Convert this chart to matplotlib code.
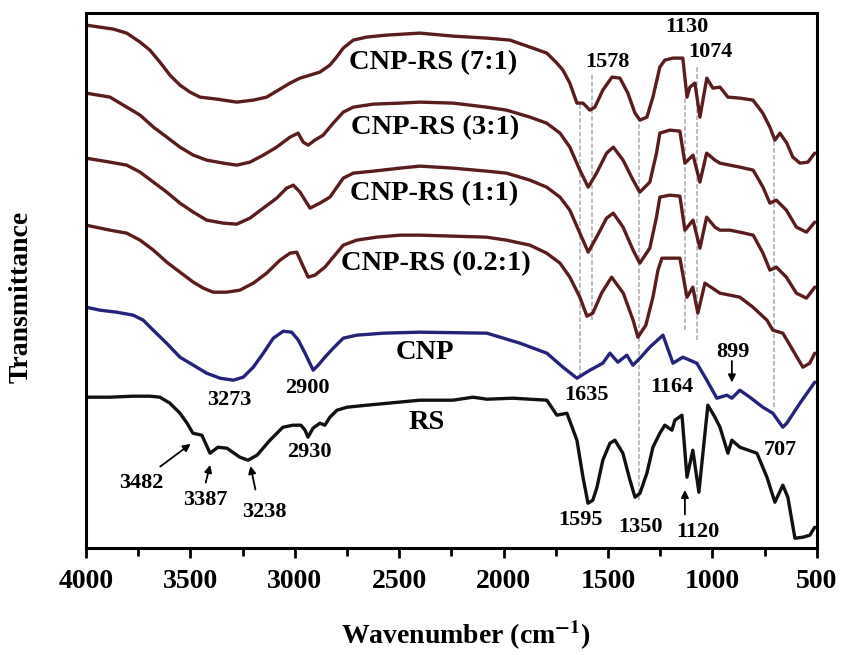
import matplotlib
matplotlib.use("Agg")
import matplotlib.pyplot as plt
from matplotlib.ticker import MultipleLocator

plt.rcParams["font.family"] = ["Liberation Serif", "DejaVu Serif"]
plt.rcParams["font.weight"] = "bold"
plt.rcParams["mathtext.fontset"] = "stix"

# FTIR spectra: wavenumber (cm-1) and transmittance (arbitrary units, stacked offsets)
WN_71 = [4000, 3869, 3805, 3741, 3694, 3646, 3598, 3550, 3502, 3454, 3374, 3278, 3199, 3135,
         3071, 3023, 2975, 2927, 2880, 2832, 2800, 2768, 2720, 2656, 2560, 2401,
         2243, 2080, 1970, 1874, 1793, 1745, 1716, 1683, 1649, 1620, 1587, 1563, 1525, 1481,
         1443, 1405, 1371, 1347, 1314, 1285, 1252, 1228, 1189, 1142, 1122, 1108, 1084, 1060,
         1027, 998, 964, 926, 869, 806, 759, 725, 701, 677, 644, 615, 581, 543, 510]
T_71 = [523, 519, 515, 506, 498, 486, 473, 463, 456, 451, 449, 446, 448, 451,
        459, 465, 470, 473, 476, 483, 491, 500, 508, 511, 513, 515,
        512, 510, 508, 501, 495, 485, 478, 465, 445, 445, 438, 441, 458, 471,
        470, 455, 435, 428, 431, 451, 481, 488, 490, 490, 451, 461, 465, 431,
        470, 460, 461, 451, 450, 448, 435, 421, 408, 415, 405, 391, 385, 386, 395]

WN_31 = [4000, 3885, 3805, 3741, 3677, 3613, 3550, 3486, 3422, 3342, 3278, 3215, 3151, 3087,
         3023, 2984, 2960, 2936, 2904, 2864, 2816, 2768, 2720, 2624, 2497,
         2401, 2241, 2082, 1986, 1874, 1794, 1730, 1683, 1635, 1595, 1555, 1507, 1475, 1428,
         1380, 1348, 1300, 1268, 1252, 1204, 1156, 1132, 1093, 1060, 1028, 988, 964, 917,
         869, 805, 758, 725, 694, 646, 598, 550, 510]
T_31 = [455, 451, 441, 433, 421, 411, 401, 393, 388, 385, 383, 386, 393, 401,
        411, 415, 406, 403, 408, 413, 425, 436, 441, 444, 445,
        446, 445, 441, 438, 431, 425, 415, 401, 378, 361, 375, 395, 401, 388,
        368, 356, 366, 395, 415, 418, 417, 385, 393, 366, 395, 388, 385, 383,
        381, 378, 361, 345, 348, 338, 321, 316, 326]

WN_11 = [4000, 3885, 3805, 3741, 3677, 3613, 3550, 3486, 3422, 3342, 3278, 3215, 3151, 3087,
         3039, 3007, 2975, 2927, 2880, 2832, 2768, 2720, 2624, 2497,
         2401, 2241, 2082, 1986, 1874, 1794, 1730, 1683, 1635, 1595, 1555, 1507, 1475, 1428,
         1380, 1348, 1300, 1268, 1252, 1204, 1156, 1132, 1093, 1060, 1028, 988, 964, 917,
         869, 805, 758, 725, 694, 646, 598, 550, 510]
T_11 = [390, 386, 383, 376, 366, 356, 345, 336, 328, 325, 324, 330, 340, 350,
        360, 363, 356, 340, 345, 351, 370, 375, 377, 380,
        382, 380, 377, 375, 368, 361, 351, 338, 315, 296, 311, 330, 335, 321,
        298, 285, 300, 331, 351, 353, 352, 318, 328, 300, 331, 321, 318, 318,
        316, 313, 295, 278, 281, 271, 255, 250, 261]

WN_021 = [4000, 3885, 3805, 3741, 3677, 3613, 3550, 3486, 3438, 3391, 3326, 3263, 3199, 3135,
          3071, 3023, 2991, 2967, 2936, 2904, 2856, 2808, 2768, 2704, 2608, 2497,
          2401, 2241, 2082, 1986, 1874, 1794, 1730, 1683, 1635, 1601, 1573, 1531, 1483, 1427,
          1380, 1357, 1319, 1285, 1261, 1242, 1156, 1122, 1094, 1070, 1036, 964, 869, 806,
          739, 711, 663, 615, 567, 534, 510]
T_021 = [323, 318, 315, 308, 298, 286, 276, 266, 260, 256, 256, 258, 265, 275,
         288, 295, 296, 285, 271, 273, 281, 293, 303, 308, 311, 313,
         313, 312, 311, 308, 303, 295, 285, 271, 251, 232, 235, 255, 271, 255,
         228, 211, 223, 251, 278, 290, 290, 251, 261, 235, 265, 255, 251, 241,
         228, 218, 215, 198, 181, 185, 195]

WN_CNP = [4000, 3933, 3853, 3774, 3726, 3678, 3614, 3550, 3486, 3422, 3358, 3295, 3247, 3199,
          3151, 3103, 3055, 3015, 2983, 2951, 2912, 2888, 2856, 2816, 2768, 2704, 2577,
          2401, 2080, 1922, 1793, 1716, 1649, 1587, 1525, 1491, 1453, 1410, 1381, 1347, 1300,
          1237, 1189, 1142, 1075, 1027, 979, 931, 907, 869, 821, 759, 711, 663, 644, 581, 510]
T_CNP = [241, 238, 236, 233, 228, 218, 205, 191, 183, 175, 170, 168, 171, 181,
         195, 210, 217, 216, 208, 195, 178, 183, 191, 200, 210, 213, 215,
         216, 215, 205, 195, 181, 170, 178, 185, 195, 186, 193, 183, 190, 201,
         213, 185, 191, 185, 168, 150, 153, 150, 158, 151, 141, 135, 121, 125, 145, 166]

WN_RS = [4000, 3885, 3775, 3694, 3646, 3598, 3550, 3516, 3488, 3445, 3406, 3368, 3325, 3263,
         3224, 3181, 3119, 3057, 3009, 2971, 2951, 2937, 2913, 2880, 2856, 2832, 2798, 2750,
         2655, 2401, 2243, 2147, 2080, 1956, 1793, 1745, 1697, 1649, 1620, 1596, 1573, 1553,
         1525, 1491, 1467, 1429, 1395, 1371, 1347, 1314, 1285, 1252, 1228, 1194, 1180, 1146,
         1122, 1094, 1065, 1022, 988, 964, 926, 907, 869, 787, 739, 701, 663, 639, 605, 567,
         534, 510]
T_RS = [151, 151, 152, 152, 151, 145, 135, 125, 115, 113, 95, 101, 100, 91,
        88, 93, 108, 121, 123, 123, 118, 111, 120, 125, 123, 131, 138, 141,
        143, 148, 148, 151, 149, 150, 148, 133, 135, 108, 71, 45, 48, 61,
        88, 105, 108, 95, 68, 51, 55, 75, 101, 115, 123, 118, 128, 133,
        71, 98, 56, 143, 131, 121, 95, 108, 101, 95, 71, 46, 63, 51, 10, 11,
        13, 21]

SERIES = [
    (WN_71, T_71, "#5a1c1c"),
    (WN_31, T_31, "#5a1c1c"),
    (WN_11, T_11, "#5a1c1c"),
    (WN_021, T_021, "#5a1c1c"),
    (WN_CNP, T_CNP, "#23237a"),
    (WN_RS, T_RS, "#111111"),
]

# curve names
CURVE_LABELS = ["CNP-RS (7:1)", "CNP-RS (3:1)", "CNP-RS (1:1)", "CNP-RS (0.2:1)", "CNP", "RS"]
CURVE_LABEL_POS = [(2339, 486), (2329, 421), (2334, 355), (2324, 285), (2377, 196), (2367, 126)]

# band labels
PEAK_TEXT = ["1130", "1074", "1578", "1635", "1164", "899", "707", "1595", "1350", "1120",
             "3273", "2900", "2930", "3482", "3387", "3238"]
PEAK_POS = [(1122, 521), (1008, 496), (1505, 486), (1601, 153), (1194, 161), (902, 196),
            (677, 98), (1630, 28), (1343, 21), (1070, 16), (3315, 148), (2942, 160),
            (2932, 96), (3737, 65), (3430, 48), (3148, 36)]

# guide lines: wavenumber, low, high
GUIDE_WN = [1635, 1578, 1350, 1130, 1074, 707]
GUIDE_LO = [171, 228, 48, 218, 208, 141]
GUIDE_HI = [443, 475, 428, 451, 483, 415]

# arrows: tail -> head
ARROWS = [((3655, 80), (3488, 106)), ((3430, 63), (3402, 86)), ((3186, 56), (3215, 85)),
          ((1132, 31), (1132, 61)), ((907, 190), (907, 163))]

fig = plt.figure(figsize=(8.43, 6.55), dpi=100)
ax = fig.add_axes([0.102, 0.163, 0.867, 0.817])

ax.vlines(GUIDE_WN, GUIDE_LO, GUIDE_HI, colors="#aaaaaa", linestyles=(0, (3, 1.5)), lw=1.1)

for wn, t, c in SERIES:
    ax.plot(wn, t, color=c, lw=2.4, solid_joinstyle="round", solid_capstyle="round")

for txt, (x, y) in zip(CURVE_LABELS, CURVE_LABEL_POS):
    ax.text(x, y, txt, ha="center", va="center", fontsize=20.5, fontweight="bold")

for txt, (x, y) in zip(PEAK_TEXT, PEAK_POS):
    ax.text(x, y, txt, ha="center", va="center", fontsize=16, fontweight="bold")

for (xt, yt), (xh, yh) in ARROWS:
    ax.annotate("", xy=(xh, yh), xytext=(xt, yt),
                arrowprops=dict(arrowstyle="-|>", color="black", lw=1.3, mutation_scale=11))

ax.set_xlim(4000, 500)
ax.set_ylim(0, 535)
ax.xaxis.set_major_locator(MultipleLocator(500))
ax.xaxis.set_minor_locator(MultipleLocator(250))
ax.set_yticks([])
ax.tick_params(axis="x", which="major", direction="out", length=7, width=2, labelsize=20, pad=8)
ax.tick_params(axis="x", which="minor", direction="out", length=6, width=2)
for lab in ax.get_xticklabels():
    lab.set_fontweight("bold")
for sp in ax.spines.values():
    sp.set_linewidth(2.2)

ax.set_xlabel(r"Wavenumber (cm$^{\mathbf{-1}}$)", fontsize=20, fontweight="bold")
ax.xaxis.set_label_coords(0.52, -0.132)
ax.set_ylabel("Transmittance", fontsize=20, fontweight="bold")
ax.yaxis.set_label_coords(-0.072, 0.47)

fig.savefig("out.png", dpi=100)
